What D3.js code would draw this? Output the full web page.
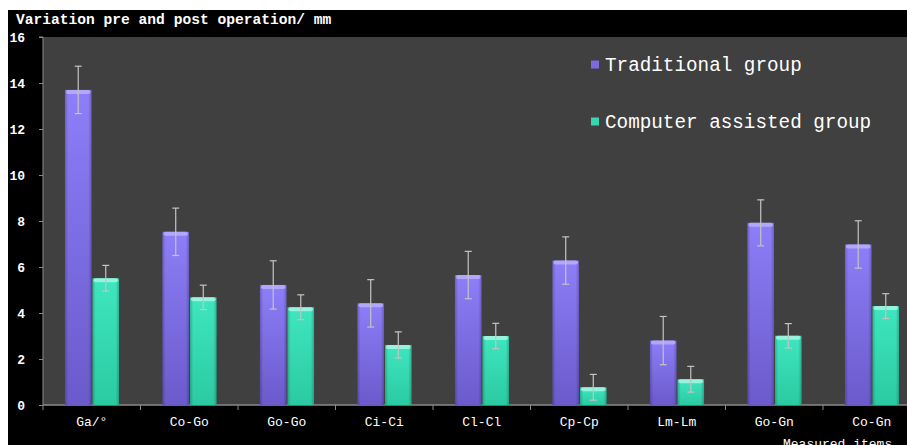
<!DOCTYPE html>
<html><head><meta charset="utf-8">
<script src="https://cdn.jsdelivr.net/npm/d3@7"></script>
<style>html,body{margin:0;padding:0;background:#fff;}svg{display:block;}</style>
</head><body>
<svg id="c" width="907" height="445"></svg>
<script>
const categories = ["Ga/°","Co-Go","Go-Go","Ci-Ci","Cl-Cl","Cp-Cp","Lm-Lm","Go-Gn","Co-Gn"];
const seriesNames = ["Traditional group","Computer assisted group"];
const traditional = [13.7,7.53,5.22,4.42,5.65,6.28,2.80,7.92,6.98];
const traditionalErr = [1.03,1.03,1.05,1.03,1.03,1.03,1.05,1.0,1.03];
const computer = [5.51,4.68,4.25,2.61,3.0,0.77,1.12,3.01,4.30];
const computerErr = [0.56,0.53,0.54,0.57,0.55,0.56,0.56,0.53,0.54];
const yTicks = [0,2,4,6,8,10,12,14,16];
const titleText = "Variation pre and post operation/ mm";
const xTitleText = "Measured items";

const svg = d3.select("#c");
const W = 907, H = 445;
const plot = {left:43, top:37, bottom:405, right:920.5};
const font = "'Liberation Mono', 'DejaVu Sans Mono', monospace";

svg.append("rect").attr("x",8).attr("y",10).attr("width",W-8).attr("height",H-10).attr("fill","#000");
svg.append("rect").attr("x",plot.left).attr("y",plot.top).attr("width",W-plot.left).attr("height",plot.bottom-plot.top).attr("fill","#404040");

const x0 = d3.scaleBand().domain(categories).range([plot.left, plot.right]).padding(0);
const bw = x0.bandwidth();
const x1 = d3.scaleBand().domain(seriesNames).range([bw*0.22, bw*0.785]).padding(0);
const y = d3.scaleLinear().domain([0,16]).range([plot.bottom, plot.top]);

const defs = svg.append("defs");
const pal = [
  {id:"g0", top:"#8e7ef8", bot:"#6a5acb", hi:"#b9aefc", sq:"#7a6ae0"},
  {id:"g1", top:"#3fe6bf", bot:"#2bcaa2", hi:"#a6f6e2", sq:"#35d8b0"}
];
pal.forEach(p=>{
  const g = defs.append("linearGradient").attr("id",p.id).attr("x1",0).attr("y1",0).attr("x2",0).attr("y2",1);
  g.append("stop").attr("offset","0%").attr("stop-color",p.top);
  g.append("stop").attr("offset","100%").attr("stop-color",p.bot);
});
const side = defs.append("linearGradient").attr("id","side").attr("x1",0).attr("y1",0).attr("x2",1).attr("y2",0);
side.append("stop").attr("offset","0%").attr("stop-color","#000").attr("stop-opacity",0.22);
side.append("stop").attr("offset","12%").attr("stop-color","#000").attr("stop-opacity",0);
side.append("stop").attr("offset","88%").attr("stop-color","#000").attr("stop-opacity",0);
side.append("stop").attr("offset","100%").attr("stop-color","#000").attr("stop-opacity",0.22);

const seriesData = [
  {name:seriesNames[0], vals:traditional, errs:traditionalErr, p:pal[0]},
  {name:seriesNames[1], vals:computer, errs:computerErr, p:pal[1]}
];

// axes
const yAxis = d3.axisLeft(y).tickValues(yTicks).tickSize(4).tickPadding(5);
const gy = svg.append("g").attr("transform",`translate(${plot.left},0)`).call(yAxis);
gy.select(".domain").attr("stroke","#8a8a8a").attr("d",`M-4,${plot.top}H0V${plot.bottom}`);
gy.selectAll(".tick line").attr("stroke","#8a8a8a");
gy.selectAll(".tick text").attr("fill","#fff").attr("font-family",font).attr("font-size",13).attr("font-weight","bold").attr("x",-18).attr("text-anchor","end");

const gx = svg.append("g").attr("transform",`translate(0,${plot.bottom})`);
gx.append("line").attr("x1",plot.left).attr("x2",W).attr("y1",0).attr("y2",0).attr("stroke","#8a8a8a").attr("stroke-width",1.5);
gx.selectAll("line.tk").data(categories).join("line").attr("class","tk")
  .attr("x1",d=>x0(d)).attr("x2",d=>x0(d)).attr("y1",0).attr("y2",5).attr("stroke","#8a8a8a");
gx.selectAll("text").data(categories).join("text")
  .attr("x",d=>x0(d)+bw/2).attr("y",21).attr("text-anchor","middle")
  .attr("fill","#fff").attr("font-family",font).attr("font-size",13).text(d=>d);

// bars
seriesData.forEach(s=>{
  const g = svg.append("g");
  const bx = c=>x0(c)+x1(s.name)+0.5;
  const w = x1.bandwidth()-1;
  g.selectAll("rect.b").data(categories).join("rect").attr("class","b")
    .attr("x",bx).attr("y",(c,i)=>y(s.vals[i])).attr("width",w)
    .attr("height",(c,i)=>y(0)-y(s.vals[i])).attr("fill",`url(#${s.p.id})`);
  g.selectAll("rect.s").data(categories).join("rect").attr("class","s")
    .attr("x",bx).attr("y",(c,i)=>y(s.vals[i])).attr("width",w)
    .attr("height",(c,i)=>y(0)-y(s.vals[i])).attr("fill","url(#side)");
  g.selectAll("rect.h").data(categories).join("rect").attr("class","h")
    .attr("x",c=>bx(c)+1).attr("y",(c,i)=>y(s.vals[i])).attr("width",w-2)
    .attr("height",4).attr("rx",2).attr("fill",s.p.hi).attr("opacity",0.85);
  // error bars
  const eg = svg.append("g").attr("stroke","#c4c4c4").attr("stroke-width",1.2);
  categories.forEach((c,i)=>{
    const cx = x0(c)+x1(s.name)+x1.bandwidth()/2;
    const t = y(s.vals[i]+s.errs[i]), b = y(s.vals[i]-s.errs[i]);
    eg.append("line").attr("x1",cx).attr("x2",cx).attr("y1",t).attr("y2",b);
    eg.append("line").attr("x1",cx-3.5).attr("x2",cx+3.5).attr("y1",t).attr("y2",t);
    eg.append("line").attr("x1",cx-3.5).attr("x2",cx+3.5).attr("y1",b).attr("y2",b);
  });
});

// legend
const leg = svg.append("g");
seriesData.forEach((s,i)=>{
  const ly = 65 + i*57;
  leg.append("rect").attr("x",591).attr("y",ly-4.5).attr("width",8).attr("height",8).attr("fill",s.p.sq);
  leg.append("text").attr("x",605).attr("y",ly+6).attr("fill","#fff").attr("font-family",font)
    .attr("font-size",19.3).text(s.name);
});

// titles
svg.append("text").attr("x",16).attr("y",24).attr("fill","#fff").attr("font-family",font)
  .attr("font-size",14.6).attr("font-weight","bold").text(titleText);
svg.append("text").attr("x",783).attr("y",448).attr("fill","#fff").attr("font-family",font)
  .attr("font-size",13).text(xTitleText);
</script>
</body></html>
